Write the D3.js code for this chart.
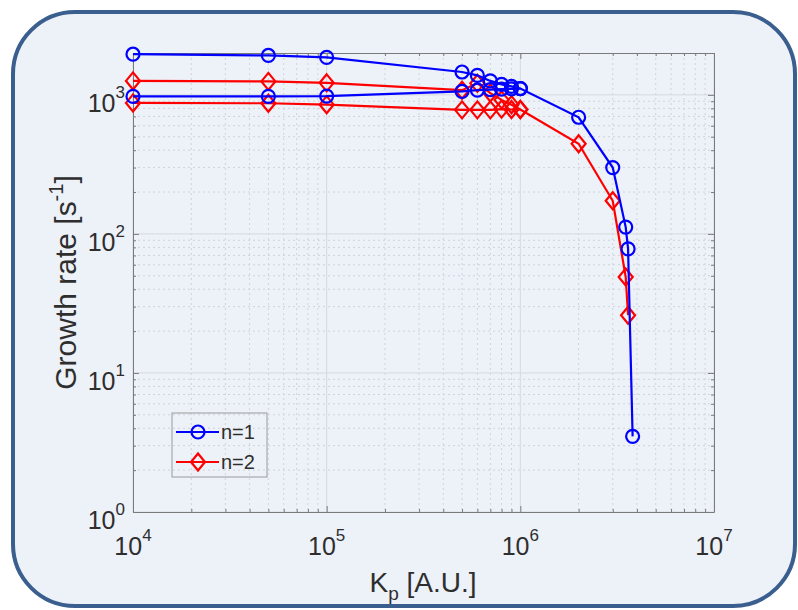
<!DOCTYPE html>
<html>
<head>
<meta charset="utf-8">
<script src="https://cdn.jsdelivr.net/npm/d3@7"></script>
<style>
    body { margin: 0; background: #ffffff; }
    svg text { font-family: Arial, "Liberation Sans", Helvetica, sans-serif; fill: #2e2e2e; }
</style>
</head>
<body>
<svg id="growth-rate" width="798" height="610"></svg>
<script>
// Kp [A.U.] sampled for the main (upper) branch and the second (lower) branch
var kpUpperN1 = [1e4, 5e4, 1e5, 5e5, 6e5, 7e5, 8e5, 9e5, 1e6, 2e6, 3e6, 3.5e6, 3.6e6, 3.8e6];
var rateUpperN1 = [1960, 1920, 1860, 1460, 1380, 1260, 1190, 1150, 1110, 690, 300, 112, 78, 3.5];
var kpLowerN1 = [1e4, 5e4, 1e5, 5e5, 6e5, 7e5, 8e5, 9e5, 1e6];
var rateLowerN1 = [975, 975, 980, 1060, 1080, 1090, 1100, 1105, 1110];

var kpUpperN2 = [1e4, 5e4, 1e5, 5e5, 6e5, 7e5, 8e5, 9e5, 1e6, 2e6, 3e6, 3.5e6, 3.6e6];
var rateUpperN2 = [1260, 1250, 1220, 1080, 1210, 1030, 920, 850, 785, 445, 173, 49, 26];
var kpLowerN2 = [1e4, 5e4, 1e5, 5e5, 6e5, 7e5, 8e5, 9e5, 1e6];
var rateLowerN2 = [875, 870, 850, 780, 780, 780, 790, 785, 785];

var legendLabels = ['n=1', 'n=2'];
var xTickExps = [4, 5, 6, 7];
var yTickExps = [0, 1, 2, 3];

/**
 * Constructor for the growth rate chart
 */
function GrowthRateChart()
{
    var self = this;
    self.init();
}

/**
 * Panel, scales, grid and axes
 */
GrowthRateChart.prototype.init = function()
{
    var self = this;
    self.svg = d3.select('#growth-rate');
    self.box = {left: 133, right: 714, top: 53, bottom: 512};

    // rounded background panel
    self.svg.append('rect')
        .attr('x', 13).attr('y', 12)
        .attr('width', 782).attr('height', 594)
        .attr('rx', 62).attr('ry', 62)
        .style('fill', '#edf1f8')
        .style('stroke', '#3a5f8e')
        .style('stroke-width', 4);

    self.x = d3.scaleLog().domain([1e4, 1e7]).range([self.box.left, self.box.right]);
    self.y = d3.scaleLog().domain([1, 2000]).range([self.box.bottom, self.box.top]);

    var xMajor = xTickExps.map(function(e) { return Math.pow(10, e); });
    var yMajor = yTickExps.map(function(e) { return Math.pow(10, e); });
    var xMinor = [], yMinor = [];
    xTickExps.slice(0, -1).forEach(function(e) {
        for (var m = 2; m < 10; m++) xMinor.push(m * Math.pow(10, e));
    });
    yTickExps.forEach(function(e) {
        for (var m = 2; m < 10; m++) {
            if (m * Math.pow(10, e) < 2000) yMinor.push(m * Math.pow(10, e));
        }
    });

    // grid
    var grid = self.svg.append('g').attr('class', 'grid');
    grid.selectAll('.gx-minor').data(xMinor).enter().append('line')
        .attr('x1', self.x).attr('x2', self.x)
        .attr('y1', self.box.top).attr('y2', self.box.bottom)
        .style('stroke', '#cfd3da').style('stroke-dasharray', '2,3');
    grid.selectAll('.gy-minor').data(yMinor).enter().append('line')
        .attr('y1', self.y).attr('y2', self.y)
        .attr('x1', self.box.left).attr('x2', self.box.right)
        .style('stroke', '#cfd3da').style('stroke-dasharray', '2,3');
    grid.selectAll('.gx-major').data(xMajor).enter().append('line')
        .attr('x1', self.x).attr('x2', self.x)
        .attr('y1', self.box.top).attr('y2', self.box.bottom)
        .style('stroke', '#d6d9df');
    grid.selectAll('.gy-major').data(yMajor).enter().append('line')
        .attr('y1', self.y).attr('y2', self.y)
        .attr('x1', self.box.left).attr('x2', self.box.right)
        .style('stroke', '#d6d9df');

    // axes with inward ticks on all four sides
    var axes = [
        [d3.axisBottom(self.x), xMajor, xMinor, 'translate(0,' + self.box.bottom + ')'],
        [d3.axisTop(self.x), xMajor, xMinor, 'translate(0,' + self.box.top + ')'],
        [d3.axisLeft(self.y), yMajor, yMinor, 'translate(' + self.box.left + ',0)'],
        [d3.axisRight(self.y), yMajor, yMinor, 'translate(' + self.box.right + ',0)']
    ];
    axes.forEach(function(a) {
        var g = self.svg.append('g').attr('class', 'axis').attr('transform', a[3]);
        g.call(a[0].tickValues(a[1]).tickSizeInner(-6).tickSizeOuter(0).tickFormat(''));
        g.append('g').call(a[0].tickValues(a[2]).tickSizeInner(-3).tickSizeOuter(0).tickFormat(''))
            .select('.domain').remove();
        g.selectAll('path, line').style('stroke', '#7a7a7a');
    });

    // tick labels 10^k
    var xl = self.svg.append('g').selectAll('text').data(xTickExps).enter().append('text')
        .attr('x', function(d) { return self.x(Math.pow(10, d)); })
        .attr('y', 555)
        .attr('text-anchor', 'middle')
        .style('font-size', '25px');
    xl.append('tspan').text('10');
    xl.append('tspan').attr('dy', -14).style('font-size', '17px').text(function(d) { return d; });

    var yl = self.svg.append('g').selectAll('text').data(yTickExps).enter().append('text')
        .attr('x', 125)
        .attr('y', function(d) { return self.y(Math.pow(10, d)) + 17; })
        .attr('text-anchor', 'end')
        .style('font-size', '25px');
    yl.append('tspan').text('10');
    yl.append('tspan').attr('dy', -14).style('font-size', '17px').text(function(d) { return d; });

    // axis labels
    var xlab = self.svg.append('text')
        .attr('x', 423).attr('y', 592)
        .attr('text-anchor', 'middle')
        .style('font-size', '28px');
    xlab.append('tspan').text('K');
    xlab.append('tspan').attr('dy', 8).style('font-size', '19px').text('p');
    xlab.append('tspan').attr('dy', -8).text(' [A.U.]');

    var ylab = self.svg.append('text')
        .attr('transform', 'translate(76,' + ((self.box.top + self.box.bottom) / 2) + ') rotate(-90)')
        .attr('text-anchor', 'middle')
        .style('font-size', '30px');
    ylab.append('tspan').text('Growth rate [s');
    ylab.append('tspan').attr('dy', -13).style('font-size', '20px').text('-1');
    ylab.append('tspan').attr('dy', 13).text(']');

    self.plot = self.svg.append('g').attr('class', 'series');
};

/**
 * Draws one branch with its markers
 */
GrowthRateChart.prototype.drawBranch = function(kp, rate, color, marker)
{
    var self = this;
    var pts = kp.map(function(k, i) { return {kp: k, rate: rate[i]}; });

    var line = d3.line()
        .x(function(d) { return self.x(d.kp); })
        .y(function(d) { return self.y(d.rate); });

    self.plot.append('path')
        .attr('d', line(pts))
        .style('fill', 'none')
        .style('stroke', color)
        .style('stroke-width', 2.2);

    self.plot.selectAll(null).data(pts).enter().append('path')
        .attr('transform', function(d) { return 'translate(' + self.x(d.kp) + ',' + self.y(d.rate) + ')'; })
        .attr('d', marker)
        .style('fill', 'none')
        .style('stroke', color)
        .style('stroke-width', 2.2);
};

GrowthRateChart.prototype.update = function()
{
    var self = this;
    var circle = 'M6.5,0A6.5,6.5 0 1,1 -6.5,0A6.5,6.5 0 1,1 6.5,0Z';
    var diamond = 'M0,-8.5L7,0L0,8.5L-7,0Z';

    self.drawBranch(kpLowerN2, rateLowerN2, '#ff0000', diamond);
    self.drawBranch(kpUpperN2, rateUpperN2, '#ff0000', diamond);
    self.drawBranch(kpLowerN1, rateLowerN1, '#0000ff', circle);
    self.drawBranch(kpUpperN1, rateUpperN1, '#0000ff', circle);

    // legend
    var lg = self.svg.append('g').attr('class', 'legend');
    lg.append('rect')
        .attr('x', 172).attr('y', 413).attr('width', 95).attr('height', 64)
        .style('fill', 'none').style('stroke', '#9a9a9a');
    var colors = ['#0000ff', '#ff0000'];
    var markers = [circle, diamond];
    legendLabels.forEach(function(lab, i) {
        var yy = 432 + i * 30;
        lg.append('line').attr('x1', 176).attr('x2', 219).attr('y1', yy).attr('y2', yy)
            .style('stroke', colors[i]).style('stroke-width', 2.2);
        lg.append('path').attr('transform', 'translate(198,' + yy + ')').attr('d', markers[i])
            .style('fill', 'none').style('stroke', colors[i]).style('stroke-width', 2.2);
        lg.append('text').attr('x', 221).attr('y', yy + 7).style('font-size', '20px').text(lab);
    });
};

var chart = new GrowthRateChart();
chart.update();
</script>
</body>
</html>
